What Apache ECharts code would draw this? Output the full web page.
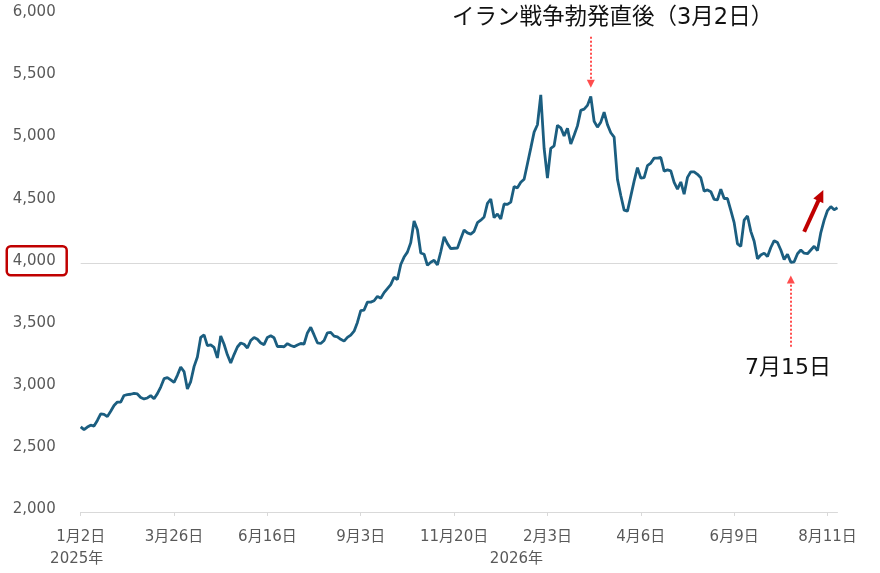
<!DOCTYPE html>
<html lang="ja">
<head>
  <meta charset="UTF-8">
  <title>金価格の推移</title>
  <style>
    html, body { margin: 0; padding: 0; background: #fff; }
    #chart { width: 880px; height: 573px; }
  </style>
  <script src="https://cdn.jsdelivr.net/npm/echarts@6.0.0/dist/echarts.min.js"></script>
</head>
<body>
  <div id="chart"></div>

  <script>
    // x軸の目盛りラベル（28点ごと）
    const xTickLabels = ['1月2日', '3月26日', '6月16日', '9月3日', '11月20日', '2月3日', '4月6日', '6月9日', '8月11日'];
    const labelStep = 28;

    // 年ラベル（どの目盛りの下に付けるか）
    const yearLabels = ['2025年', '2026年'];
    const yearAtTick = [0, 5];

    // y軸
    const yMin = 2000;
    const yMax = 6000;
    const yStep = 500;
    const yMark = 4000;

    // 価格（ドル）
    const prices = [
      2685, 2662, 2683, 2698, 2691, 2736, 2790, 2785, 2767, 2810,
      2856, 2884, 2883, 2937, 2944, 2947, 2954, 2949, 2921, 2909,
      2917, 2936, 2911, 2952, 3005, 3072, 3080, 3062, 3043, 3099,
      3165, 3129, 2990, 3049, 3169, 3246, 3405, 3425, 3338, 3344,
      3324, 3239, 3415, 3349, 3264, 3199, 3266, 3327, 3359, 3349,
      3319, 3379, 3404, 3389, 3359, 3346, 3404, 3417, 3401, 3331,
      3332, 3329, 3354, 3339, 3329, 3343, 3355, 3351, 3440, 3485,
      3424, 3361, 3355, 3379, 3441, 3444, 3414, 3409, 3389, 3374,
      3404, 3422, 3454, 3524, 3619, 3624, 3688, 3688, 3699, 3734,
      3719, 3764, 3797, 3829, 3888, 3870, 3990, 4050, 4090, 4166,
      4340, 4270, 4083, 4073, 3984, 4008, 4024, 3988, 4093, 4213,
      4158, 4118, 4121, 4122, 4198, 4267, 4245, 4235, 4257, 4327,
      4347, 4372, 4482, 4517, 4367, 4397, 4357, 4477, 4474, 4492,
      4617, 4607, 4651, 4676, 4801, 4926, 5055, 5114, 5354, 4925,
      4686, 4925, 4945, 5110, 5090, 5025, 5085, 4960, 5030, 5105,
      5230, 5240, 5270, 5342, 5142, 5095, 5135, 5215, 5115, 5050,
      5015, 4675, 4545, 4428, 4420, 4540, 4661, 4770, 4685, 4689,
      4786, 4806, 4846, 4846, 4851, 4741, 4751, 4743, 4651, 4596,
      4654, 4556, 4691, 4736, 4736, 4716, 4688, 4581, 4590, 4576,
      4514, 4511, 4596, 4521, 4521, 4426, 4327, 4157, 4137, 4347,
      4381, 4257, 4177, 4037, 4067, 4082, 4054, 4127, 4182, 4167,
      4107, 4030, 4072, 4008, 4012, 4077, 4107, 4081, 4077, 4107,
      4137, 4102, 4247, 4347, 4424, 4456, 4431, 4446
    ];

    // 注記（[点の番号, 価格]）
    const iranNote = 'イラン戦争勃発直後（3月2日）';
    const iranArrow = [[153, 5822], [153, 5443]];
    const julyNote = '7月15日';
    const julyArrow = [[213, 3329], [213, 3870]];
    const upArrow = [[217, 4254], [222, 4546]];

    const labelFont = "'DejaVu Sans', 'Noto Sans CJK JP', sans-serif";
    const noteFont = "'DejaVu Sans', 'Noto Sans CJK JP', sans-serif";
    const gray = '#595959';

    // カテゴリ（目盛り位置にだけ日付を入れる）
    const categories = prices.map((p, i) => (i % labelStep === 0 ? xTickLabels[i / labelStep] : ''));

    // 4,000 の横線だけ表示する
    const splitColors = [];
    for (let v = yMin; v <= yMax; v += yStep) {
      splitColors.push(v === yMark ? '#D9D9D9' : 'rgba(0,0,0,0)');
    }

    const chart = echarts.init(document.getElementById('chart'), null, { renderer: 'canvas' });

    const option = {
      animation: false,
      grid: { left: 80.7, right: 42.5, top: 14.6, bottom: 61, containLabel: false, outerBoundsMode: 'none' },
      xAxis: {
        type: 'category',
        data: categories,
        boundaryGap: false,
        axisLine: { show: true, lineStyle: { color: '#D9D9D9', width: 1 } },
        axisTick: { show: true, interval: labelStep - 1, length: 4, lineStyle: { color: '#D9D9D9' } },
        axisLabel: {
          interval: labelStep - 1,
          margin: 14,
          color: gray,
          fontSize: 15,
          fontFamily: labelFont,
          lineHeight: 22,
          formatter: (value, index) => {
            const k = yearAtTick.indexOf(index / labelStep);
            return k >= 0 ? value + '\n{y' + k + '|' + yearLabels[k] + '}' : value;
          },
          rich: {
            y0: { fontSize: 15, color: gray, fontFamily: labelFont, lineHeight: 22, padding: [0, 8, 0, 0] },
            y1: { fontSize: 15, color: gray, fontFamily: labelFont, lineHeight: 22, padding: [0, 62, 0, 0] }
          }
        },
        splitLine: { show: false }
      },
      yAxis: {
        type: 'value',
        min: yMin,
        max: yMax,
        interval: yStep,
        axisLine: { show: false },
        axisTick: { show: false },
        splitLine: { show: true, lineStyle: { color: splitColors, width: 1 } },
        axisLabel: {
          margin: 14,
          padding: [0, 0, 5, 0],
          formatter: v => (v === yMark ? '{hl|' : '{n|') + v.toLocaleString('en-US') + '}',
          rich: {
            n: { fontSize: 15, color: gray, fontFamily: labelFont, lineHeight: 16, padding: [7, 11, 7, 6] },
            hl: {
              fontSize: 15, color: gray, fontFamily: labelFont, lineHeight: 16, padding: [7, 11, 7, 6],
              borderColor: '#C00000', borderWidth: 2.5, borderRadius: 4
            }
          }
        }
      },
      series: [
        {
          name: '価格',
          type: 'line',
          data: prices,
          showSymbol: false,
          symbol: 'none',
          smooth: false,
          lineStyle: { color: '#1B5E80', width: 2.8 },
          z: 3,
          markLine: {
            silent: true,
            animation: false,
            label: { show: false },
            data: [
              [
                { coord: iranArrow[0], symbol: 'none' },
                { coord: iranArrow[1], symbol: 'triangle', symbolSize: [8, 8],
                  lineStyle: { color: '#FF4D4D', type: [2, 2], width: 2 } }
              ],
              [
                { coord: julyArrow[0], symbol: 'none' },
                { coord: julyArrow[1], symbol: 'triangle', symbolSize: [8, 8],
                  lineStyle: { color: '#FF4D4D', type: [2, 2], width: 2 } }
              ],
              [
                { coord: upArrow[0], symbol: 'none' },
                { coord: upArrow[1], symbol: 'triangle', symbolSize: [11, 12],
                  lineStyle: { color: '#C00000', type: 'solid', width: 4 } }
              ]
            ]
          }
        }
      ],
      graphic: [
        {
          type: 'text',
          left: 452,
          top: 7,
          style: { text: iranNote, fontSize: 22.5, fontFamily: noteFont, fill: '#111' }
        },
        {
          type: 'text',
          left: 745,
          top: 357,
          style: { text: julyNote, fontSize: 22, fontFamily: noteFont, fill: '#111' }
        }
      ]
    };

    chart.setOption(option);
  </script>
</body>
</html>
